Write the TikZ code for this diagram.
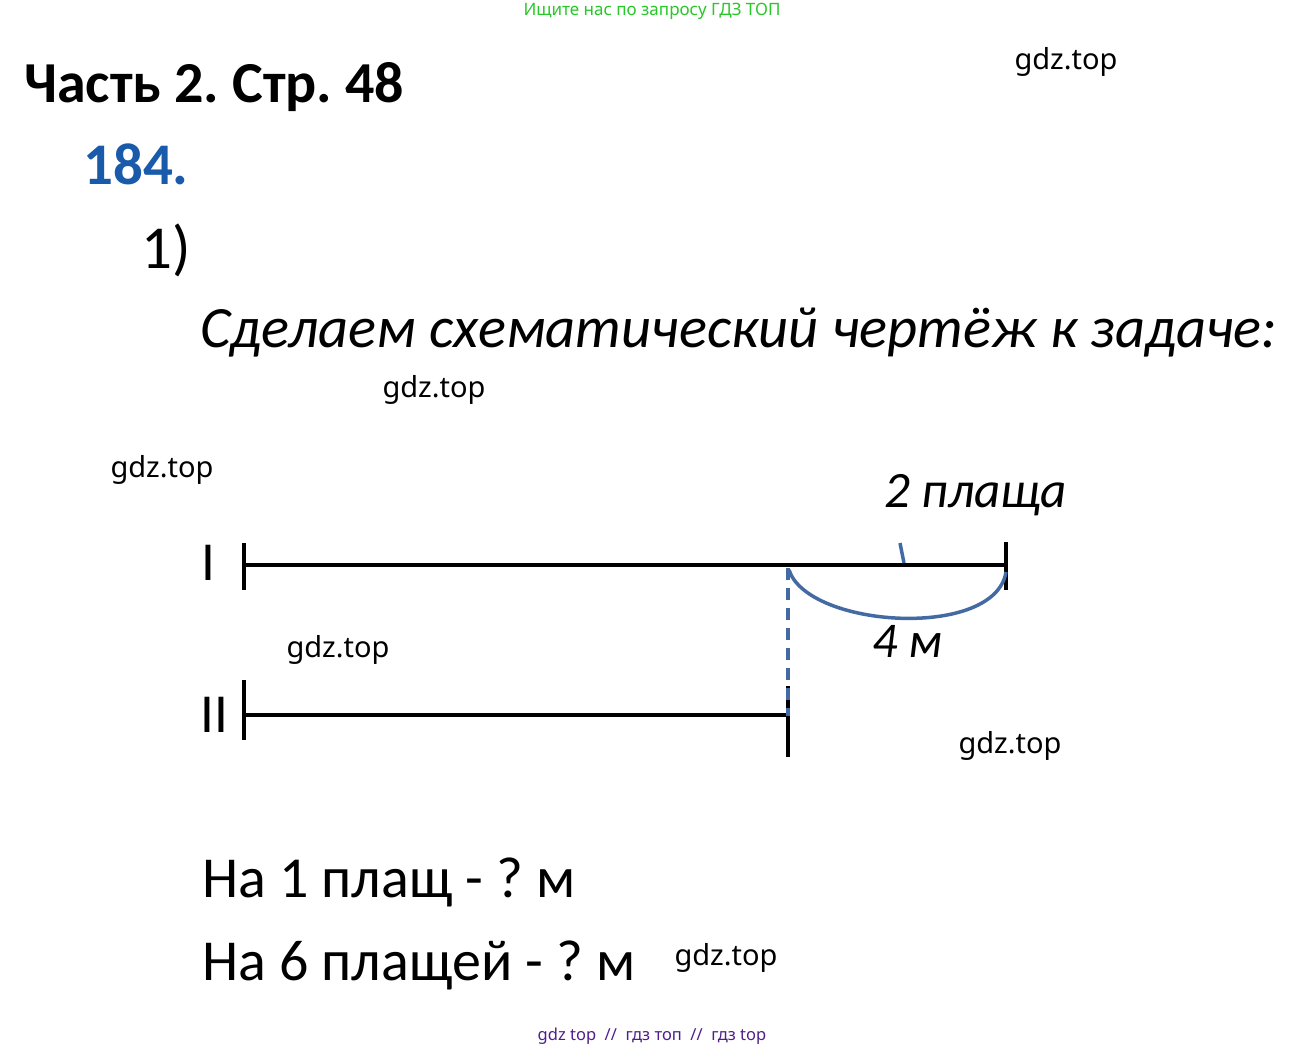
\documentclass[tikz,border=0pt]{standalone}
\usepackage{fontspec}
\setmainfont{Carlito}
\newfontfamily\wmfont{Noto Sans}
\definecolor{hdrgreen}{RGB}{40,200,40}
\definecolor{ftrpurple}{RGB}{80,30,140}
\definecolor{numblue}{RGB}{25,90,170}
\definecolor{arcblue}{RGB}{68,106,164}
\frenchspacing
\tikzset{
  wm/.style={font=\wmfont\fontsize{29}{32}\selectfont, anchor=center, inner sep=0pt},
  bar/.style={line width=4pt, black},
  bluemark/.style={line width=3.5pt, arcblue},
  txt/.style={anchor=base west, inner sep=0pt}
}
\begin{document}
\begin{tikzpicture}[x=1pt,y=-1pt]
\useasboundingbox (0,0) rectangle (1306,1051);
\fill[white] (0,0) rectangle (1306,1051);
% header / footer
\node[anchor=center, inner sep=0pt, text=hdrgreen, font=\wmfont\fontsize{17}{20}\selectfont] (hdr) at (652,11) {Ищите нас по запросу ГДЗ ТОП};
\node[anchor=center, inner sep=0pt, text=ftrpurple, font=\wmfont\fontsize{16.5}{20}\selectfont] (ftr) at (652,1036) {gdz top \ // \ гдз топ \ // \ гдз top};
% titles
\node[txt, font=\bfseries\fontsize{58}{70}\selectfont] (title) at (24,103) {Часть 2. Стр. 48};
\node[txt, text=numblue, font=\bfseries\fontsize{59}{70}\selectfont] (num) at (83,185) {184.};
\node[txt, font=\fontsize{61}{70}\selectfont] (sub) at (141,268) {1)};
\node[txt, font=\itshape\fontsize{58.5}{66}\selectfont] (intro) at (200,347) {Сделаем схематический чертёж к задаче:};
% watermarks
\node[wm] (w1) at (1066,62) {gdz.top};
\node[wm] (w2) at (434,390) {gdz.top};
\node[wm] (w3) at (162,470) {gdz.top};
\node[wm] (w4) at (338,650) {gdz.top};
\node[wm] (w5) at (1010,746) {gdz.top};
\node[wm] (w6) at (726,958) {gdz.top};
% segment labels
\node[txt, font=\fontsize{55}{60}\selectfont] (lI) at (201,580) {I};
\node[txt, font=\fontsize{55}{60}\selectfont] (lII) at (200,732) {II};
% coordinates
\coordinate (a1) at (244,565);
\coordinate (b1) at (1006,565);
\coordinate (m1) at (788,565);
\coordinate (a2) at (244,715);
\coordinate (b2) at (788,715);
% line I
\draw[bar] (a1) -- (b1);
\draw[bar] (244,543) -- (244,590);
\draw[bar] (1006,542) -- (1006,590);
% line II
\draw[bar] (a2) -- (b2);
\draw[bar] (244,680) -- (244,740);
\draw[bar] (788,686) -- (788,757);
% dashed blue
\draw[bluemark, dash pattern=on 12pt off 8pt] (788,568) -- (788,716);
% brace arc
\draw[bluemark] (789,570) .. controls (808,628) and (995,640) .. (1006,572);
\draw[bluemark] (900,543) -- (904,563);
\node[txt, font=\itshape\fontsize{51}{60}\selectfont] (two) at (884,507) {2 плаща};
\node[txt, font=\itshape\fontsize{50}{60}\selectfont] (four) at (872,657) {4 м};
% questions
\node[txt, font=\fontsize{58}{66}\selectfont] (q1) at (202,897) {На 1 плащ - ? м};
\node[txt, font=\fontsize{58}{66}\selectfont] (q2) at (202,980) {На 6 плащей - ? м};
\end{tikzpicture}
\end{document}
